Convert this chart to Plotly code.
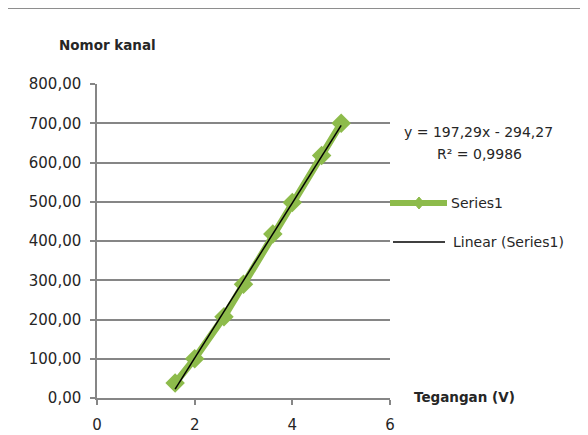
import numpy as np
import plotly.graph_objects as go

# ---- data ----
tegangan = [1.6, 2.0, 2.6, 3.0, 3.6, 4.0, 4.6, 5.0]
nomor_kanal = [38, 100, 207, 290, 418, 498, 618, 700]
series_name = "Series1"
trend_name = "Linear (Series1)"
equation_text = "y = 197,29x - 294,27"
r2_text = "R² = 0,9986"
x_ticks = [0, 2, 4, 6]
y_ticks = [0, 100, 200, 300, 400, 500, 600, 700, 800]

# linear trend fitted to the data
slope, intercept = np.polyfit(tegangan, nomor_kanal, 1)
trend_x = [min(tegangan), max(tegangan)]
trend_y = [slope * v + intercept for v in trend_x]

GREEN = "#8DBB4B"
GRID = "#868686"
TXT = "#262626"
FONT = "DejaVu Sans"

# page offset (default body margin of the html page)
OFF = 8
FIG_W, FIG_H = 588 - OFF, 435 - OFF

# plot-area geometry in screen pixels
L, R, T, B = 97, 390, 84, 398
W, H = R - L, B - T


def px(x):
    return (x - L) / W


def py(y):
    return (B - y) / H


fig = go.Figure()
fig.add_trace(go.Scatter(
    x=tegangan, y=nomor_kanal, name=series_name, mode="lines+markers",
    line=dict(color=GREEN, width=7),
    marker=dict(symbol="diamond", size=15, color=GREEN),
    showlegend=False,
))
fig.add_trace(go.Scatter(
    x=trend_x, y=trend_y, name=trend_name, mode="lines",
    line=dict(color="black", width=1.5), showlegend=False,
))

shapes = [
    # outer chart border
    dict(type="rect", xref="paper", yref="paper",
         x0=px(7.5), x1=px(580.5), y0=py(8.5), y1=py(460),
         line=dict(color="#8E8E8E", width=1), fillcolor="rgba(0,0,0,0)", layer="below"),
    # legend sample: Series1
    dict(type="line", xref="paper", yref="paper",
         x0=px(390), x1=px(447), y0=py(203), y1=py(203),
         line=dict(color=GREEN, width=6)),
    dict(type="path", xref="paper", yref="paper",
         path=f"M {px(414)},{py(203)} L {px(419)},{py(197)} L {px(424)},{py(203)} L {px(419)},{py(209)} Z",
         fillcolor=GREEN, line=dict(color=GREEN, width=1)),
    # legend sample: Linear
    dict(type="line", xref="paper", yref="paper",
         x0=px(393), x1=px(445), y0=py(242), y1=py(242),
         line=dict(color="black", width=1.5)),
]

annotations = [
    dict(text="<b>Nomor kanal</b>", x=px(57), y=py(45), xref="paper", yref="paper",
         xanchor="left", yanchor="middle", showarrow=False,
         font=dict(family=FONT, size=13.5, color=TXT)),
    dict(text="<b>Tegangan (V)</b>", x=px(412), y=py(397), xref="paper", yref="paper",
         xanchor="left", yanchor="middle", showarrow=False,
         font=dict(family=FONT, size=13.5, color=TXT)),
    dict(text=equation_text, x=px(478), y=py(132), xref="paper", yref="paper",
         xanchor="center", yanchor="middle", showarrow=False,
         font=dict(family=FONT, size=14, color=TXT)),
    dict(text=r2_text, x=px(479), y=py(154), xref="paper", yref="paper",
         xanchor="center", yanchor="middle", showarrow=False,
         font=dict(family=FONT, size=14, color=TXT)),
    dict(text=series_name, x=px(449), y=py(203), xref="paper", yref="paper",
         xanchor="left", yanchor="middle", showarrow=False,
         font=dict(family=FONT, size=14, color=TXT)),
    dict(text=trend_name, x=px(451), y=py(242), xref="paper", yref="paper",
         xanchor="left", yanchor="middle", showarrow=False,
         font=dict(family=FONT, size=14, color=TXT)),
]

fig.update_layout(
    width=FIG_W, height=FIG_H,
    margin=dict(l=L - OFF, r=FIG_W - (R - OFF), t=T - OFF, b=FIG_H - (B - OFF), pad=0),
    paper_bgcolor="white", plot_bgcolor="white",
    separators=", ",
    font=dict(family=FONT, size=15, color=TXT),
    showlegend=False,
    shapes=shapes,
    annotations=annotations,
    xaxis=dict(
        range=[0, 6], tickvals=x_ticks, showgrid=False, zeroline=False,
        showline=True, linecolor=GRID, linewidth=1.5,
        ticks="outside", ticklen=5, tickcolor=GRID, tickwidth=1.5,
        tickfont=dict(family=FONT, size=15, color=TXT),
        ticklabelstandoff=7, automargin=False,
    ),
    yaxis=dict(
        range=[0, 800], tickvals=y_ticks, tickformat=".2f",
        showgrid=True, gridcolor=GRID, gridwidth=1.5, zeroline=False,
        showline=True, linecolor=GRID, linewidth=1.5,
        ticks="outside", ticklen=5, tickcolor=GRID, tickwidth=1.5,
        tickfont=dict(family=FONT, size=15, color=TXT),
        ticklabelstandoff=6, automargin=False,
    ),
)

fig.write_html("out.html")
